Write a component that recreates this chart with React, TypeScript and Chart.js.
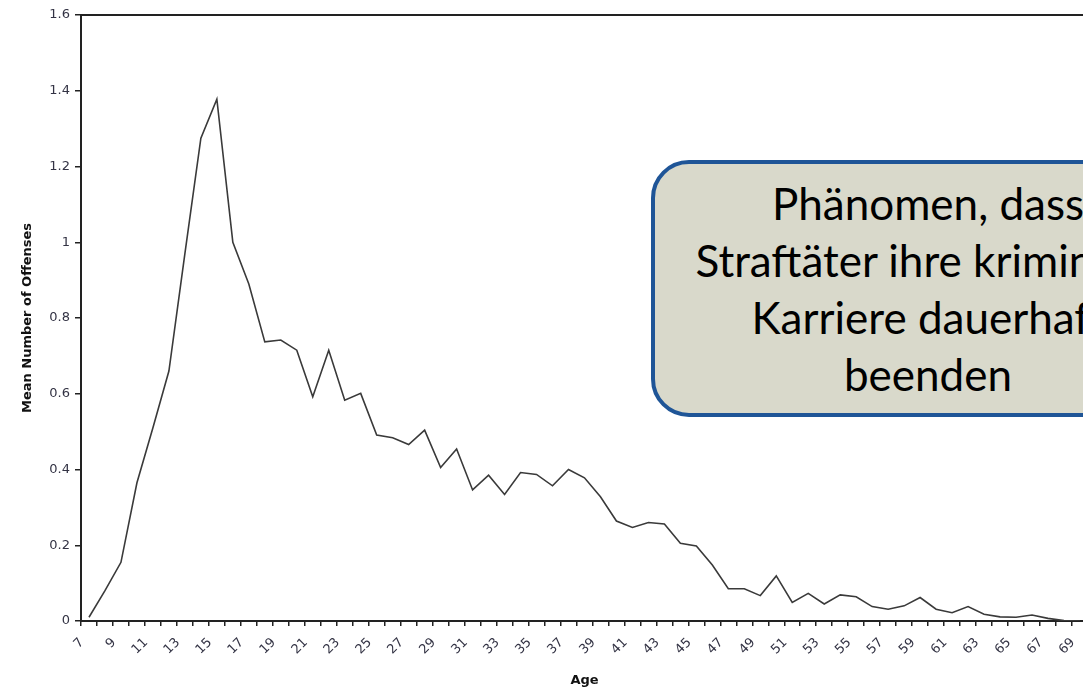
import React, { useEffect, useRef } from "react";
import { Chart, registerables } from "chart.js";

Chart.register(...registerables);

const AGES: number[] = [
  7, 8, 9, 10, 11, 12, 13, 14, 15, 16, 17, 18, 19, 20, 21, 22, 23, 24, 25, 26, 27, 28,
  29, 30, 31, 32, 33, 34, 35, 36, 37, 38, 39, 40, 41, 42, 43, 44, 45, 46, 47, 48, 49,
  50, 51, 52, 53, 54, 55, 56, 57, 58, 59, 60, 61, 62, 63, 64, 65, 66, 67, 68, 69,
];

const MEAN_OFFENSES: number[] = [
  0.01, 0.08, 0.155, 0.365, 0.51, 0.66, 0.97, 1.275, 1.378, 1.0, 0.89, 0.737, 0.742,
  0.715, 0.592, 0.715, 0.583, 0.601, 0.491, 0.484, 0.466, 0.504, 0.405, 0.454, 0.346,
  0.385, 0.334, 0.392, 0.387, 0.357, 0.4, 0.378, 0.328, 0.264, 0.247, 0.26, 0.256,
  0.205, 0.198, 0.148, 0.085, 0.085, 0.067, 0.119, 0.049, 0.073, 0.045, 0.069, 0.064,
  0.038, 0.031, 0.04, 0.062, 0.031, 0.022, 0.038, 0.018, 0.011, 0.01, 0.016, 0.007,
  0.001, 0,
];

const Y_TITLE = "Mean Number of Offenses";
const X_TITLE = "Age";
const NOTE_LINES: string[] = [
  "Phänomen, dass",
  "Straftäter ihre kriminelle",
  "Karriere dauerhaft",
  "beenden",
];

const AXIS_COLOR = "#222222";
const TICK_FONT = { family: "'DejaVu Sans', sans-serif", size: 13 };

const framePlugin = {
  id: "frame",
  afterDraw(chart: any) {
    const { ctx, chartArea } = chart;
    ctx.save();
    ctx.strokeStyle = AXIS_COLOR;
    ctx.lineWidth = 2;
    ctx.beginPath();
    ctx.moveTo(chartArea.left, chartArea.top);
    ctx.lineTo(chartArea.right, chartArea.top);
    ctx.lineTo(chartArea.right, chartArea.bottom);
    ctx.stroke();
    ctx.restore();
  },
};

export default function App() {
  const canvasRef = useRef<HTMLCanvasElement | null>(null);

  useEffect(() => {
    document.body.style.margin = "0";
    document.body.style.overflow = "hidden";
    const canvas = canvasRef.current;
    if (!canvas) return;
    const chart = new Chart(canvas, {
      type: "line",
      data: {
        labels: AGES.map(String),
        datasets: [
          {
            data: MEAN_OFFENSES,
            borderColor: "#3a3a3a",
            borderWidth: 1.6,
            pointRadius: 0,
            tension: 0,
            fill: false,
          },
        ],
      },
      options: {
        animation: false,
        responsive: false,
        devicePixelRatio: 1,
        layout: { padding: { left: 16, top: 15, right: 1.5, bottom: 0 } },
        plugins: {
          legend: { display: false },
          tooltip: { enabled: false },
        },
        scales: {
          x: {
            type: "category",
            offset: true,
            grid: {
              offset: true,
              drawOnChartArea: false,
              drawTicks: true,
              tickLength: 5,
              color: AXIS_COLOR,
              lineWidth: 1.5,
            },
            border: { display: true, color: AXIS_COLOR, width: 2 },
            ticks: {
              autoSkip: false,
              minRotation: 45,
              maxRotation: 45,
              labelOffset: -7,
              padding: 9,
              color: "#333344",
              font: TICK_FONT,
              callback: (_v: any, i: number) => (AGES[i] % 2 === 1 ? String(AGES[i]) : ""),
            },
            title: {
              display: true,
              text: X_TITLE,
              color: "#111111",
              font: { family: "'DejaVu Sans', sans-serif", size: 13, weight: "bold" },
              padding: { top: 0, bottom: 1 },
            },
            afterFit: (scale: any) => {
              scale.height = 68;
            },
          },
          y: {
            min: 0,
            max: 1.6,
            grid: {
              drawOnChartArea: false,
              drawTicks: true,
              tickLength: 6,
              color: AXIS_COLOR,
              lineWidth: 1.5,
            },
            border: { display: true, color: AXIS_COLOR, width: 2 },
            ticks: {
              stepSize: 0.2,
              padding: 5,
              color: "#333344",
              font: TICK_FONT,
              callback: (v: any) => String(Number(Number(v).toFixed(1))),
            },
            title: {
              display: true,
              text: Y_TITLE,
              color: "#111111",
              font: { family: "'DejaVu Sans', sans-serif", size: 13, weight: "bold" },
              padding: { top: 4, bottom: 4 },
            },
            afterFit: (scale: any) => {
              scale.width = 65;
            },
          },
        },
      },
      plugins: [framePlugin],
    });
    return () => chart.destroy();
  }, []);

  return (
    <div
      style={{
        position: "relative",
        width: 1083,
        height: 689,
        overflow: "hidden",
        background: "#ffffff",
      }}
    >
      <canvas
        ref={canvasRef}
        width={1100}
        height={689}
        style={{ position: "absolute", left: 0, top: 0, width: 1100, height: 689 }}
      />
      <div
        style={{
          position: "absolute",
          left: 651,
          top: 160,
          width: 554,
          height: 257,
          boxSizing: "border-box",
          border: "4px solid #1f5597",
          borderRadius: 38,
          background: "#d9d9cb",
          display: "flex",
          flexDirection: "column",
          justifyContent: "center",
          alignItems: "center",
          fontFamily: "Lato, 'Open Sans', sans-serif",
          fontSize: 44,
          lineHeight: "57px",
          color: "#000000",
          textAlign: "center",
          whiteSpace: "nowrap",
        }}
      >
        {NOTE_LINES.map((t) => (
          <div key={t}>{t}</div>
        ))}
      </div>
    </div>
  );
}
